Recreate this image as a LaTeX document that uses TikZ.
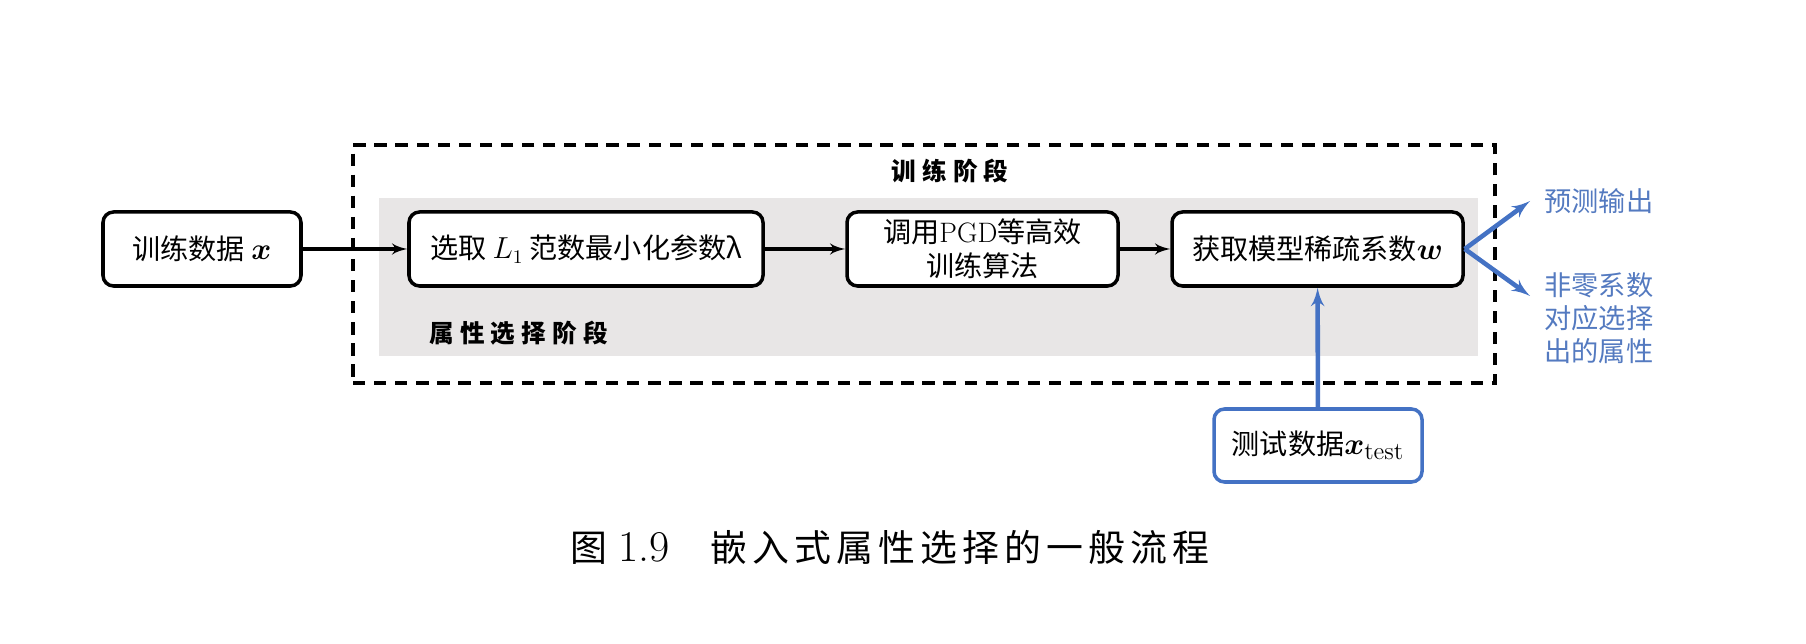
\documentclass[tikz,border=0pt]{standalone}
\usepackage{amsmath}
\usepackage{bm}
\usepackage{fontspec}
\newfontfamily\cjk{Noto Sans CJK SC}
\newfontfamily\cjkstage[LetterSpace=25]{Noto Sans CJK SC}
\newfontfamily\cjkcap[LetterSpace=14]{Noto Sans CJK SC}
\usetikzlibrary{shapes,arrows,fit}
\definecolor{stagegray}{RGB}{232,230,230}
\definecolor{testblue}{RGB}{68,114,196}
\definecolor{noteblue}{RGB}{84,122,192}
\tikzstyle{block} = [draw, line width=2pt, rounded corners=6pt, fill=white, text centered, align=center, minimum height=1.48cm, inner sep=2pt, font=\cjk\fontsize{16}{19.5}\selectfont]
\tikzstyle{testblock} = [block, draw=testblue]
\tikzstyle{frame} = [draw, line width=1.8pt, dash pattern=on 7pt off 5pt]
\tikzstyle{stage} = [fill=stagegray]
\tikzstyle{stagelabel} = [inner sep=0pt, font=\cjkstage\bfseries\fontsize{14}{16}\selectfont]
\tikzstyle{note} = [anchor=west, inner xsep=0.28cm, text=noteblue, align=left, font=\cjk\fontsize{15.5}{18.7}\selectfont]
\tikzset{
  line/.style ={draw, line width=2pt, -latex'},
  blueline/.style ={draw=testblue, line width=2.6pt, -latex'}
}

\begin{document}
\begin{tikzpicture}
  \useasboundingbox (0,0) rectangle (36.12,12.88);

  % stages
  \node[frame, minimum width=22.84cm, minimum height=4.76cm] (train) at (18.48,7.60) {};
  \node[stage, minimum width=21.98cm, minimum height=3.16cm] (select) at (18.57,7.34) {};
  \node[stagelabel] (trainlabel) at (19.00,9.46) {训练阶段};
  \node[stagelabel, anchor=west] (selectlabel) at (8.58,6.22) {属性选择阶段};

  % blocks
  \node[block, minimum width=3.96cm] (traindata) at (4.04,7.90) {训练数据 $\bm{x}$};
  \node[block, minimum width=7.08cm] (lambda) at (11.72,7.90) {选取 $L_1$ 范数最小化参数λ};
  \node[block, minimum width=5.42cm] (pgd) at (19.65,7.90) {调用\textrm{PGD}等高效\\训练算法};
  \node[block, minimum width=5.82cm] (wcoef) at (26.35,7.90) {获取模型稀疏系数$\bm{w}$};
  \node[testblock, minimum width=4.16cm, minimum height=1.46cm] (testdata) at (26.36,3.97)
    {测试数据$\bm{x}_{\text{\rmfamily\fontsize{14}{16}\selectfont test}}$};

  % outputs
  \node[note] (pred) at (30.60,8.86) {预测输出};
  \node[note] (attr) at (30.60,6.52) {非零系数\\对应选择\\出的属性};

  \node[font=\cjkcap\fontsize{21}{24}\selectfont] (caption) at (17.80,1.94)
    {图\hspace{0.3em}{\rmfamily\fontsize{25}{28}\selectfont 1.9}\hspace{1.1em}嵌入式属性选择的一般流程};

  \draw[line] (traindata) -- (lambda);
  \draw[line] (lambda) -- (pgd);
  \draw[line] (pgd) -- (wcoef);
  \draw[blueline] (wcoef.east) -- (pred.west);
  \draw[blueline] (wcoef.east) -- ([yshift=0.44cm]attr.west);
  \draw[blueline] (testdata) -- (wcoef);

\end{tikzpicture}
\end{document}
